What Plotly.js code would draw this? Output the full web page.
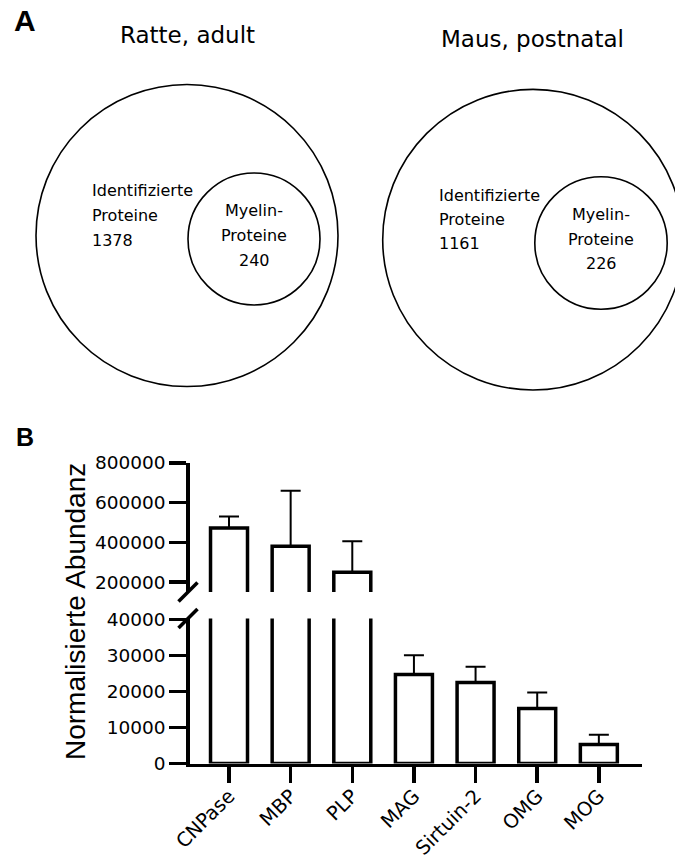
<!DOCTYPE html>
<html>
<head>
<meta charset="utf-8">
<script src="https://cdn.plot.ly/plotly-3.0.1.min.js"></script>
<style>html,body{margin:0;padding:0;background:#fff;}#chart{width:675px;height:855px;}</style>
</head>
<body>
<div id="chart"></div>
<script>
// ---------- data ----------
const proteins = ["CNPase", "MBP", "PLP", "MAG", "Sirtuin-2", "OMG", "MOG"];
const abundance = [472000, 381000, 249000, 24700, 22500, 15300, 5300];
const abundanceErr = [58000, 279000, 157000, 5400, 4350, 4400, 2700];
const lowerTicks = [0, 10000, 20000, 30000, 40000];
const upperTicks = [200000, 400000, 600000, 800000];

const vennTitles = ["Ratte, adult", "Maus, postnatal"];
const identified = [1378, 1161];
const myelin = [240, 226];

// ---------- layout helpers ----------
const W = 675, H = 855;
const px = v => v / W;
const py = v => 1 - v / H;

const FONT = "DejaVu Sans, Liberation Sans, Arial, sans-serif";
const ARIAL = "Liberation Sans, Arial, sans-serif";

// Venn geometry (pixels)
const venn = [
  {outer: {cx: 187, cy: 235.5, r: 151}, inner: {cx: 254, cy: 239, r: 66},
   titleX: 187.5, titleY: 35, leftX: 90, leftY: [190.8, 215.8, 240.3], innerY: [211, 235.3, 260]},
  {outer: {cx: 533, cy: 239.7, r: 150.3}, inner: {cx: 601, cy: 243, r: 66.2},
   titleX: 532.5, titleY: 38.8, leftX: 436.7, leftY: [195.3, 219.5, 243.5], innerY: [214.5, 239, 263.3]}
];

const shapes = [];
const annotations = [];

venn.forEach((v, i) => {
  [v.outer, v.inner].forEach(c => {
    shapes.push({type: "circle", xref: "paper", yref: "paper",
      x0: px(c.cx - c.r), x1: px(c.cx + c.r), y0: py(c.cy + c.r), y1: py(c.cy - c.r),
      line: {color: "#000", width: 1.6}, fillcolor: "rgba(0,0,0,0)"});
  });
  annotations.push({xref: "paper", yref: "paper", x: px(v.titleX), y: py(v.titleY),
    xanchor: "center", yanchor: "middle", showarrow: false, text: vennTitles[i],
    font: {family: FONT, size: 23, color: "#000"}});
  const leftLines = ["Identifizierte", "Proteine", String(identified[i])];
  leftLines.forEach((t, k) => annotations.push({xref: "paper", yref: "paper",
    x: px(v.leftX), y: py(v.leftY[k]), xanchor: "left", yanchor: "middle", showarrow: false,
    text: t, font: {family: FONT, size: 16, color: "#000"}}));
  const innerLines = ["Myelin-", "Proteine", String(myelin[i])];
  innerLines.forEach((t, k) => annotations.push({xref: "paper", yref: "paper",
    x: px(v.inner.cx), y: py(v.innerY[k]), xanchor: "center", yanchor: "middle", showarrow: false,
    text: t, font: {family: FONT, size: 16, color: "#000"}}));
});

// panel letters
annotations.push({xref: "paper", yref: "paper", x: px(24.5), y: py(20), xanchor: "center", yanchor: "middle",
  showarrow: false, text: "<b>A</b>", font: {family: ARIAL, size: 30, color: "#000"}});
annotations.push({xref: "paper", yref: "paper", x: px(25), y: py(437), xanchor: "center", yanchor: "middle",
  showarrow: false, text: "<b>B</b>", font: {family: ARIAL, size: 25, color: "#000"}});

// y-axis title spanning both segments
annotations.push({xref: "paper", yref: "paper", x: px(75), y: py(612), xanchor: "center", yanchor: "middle",
  showarrow: false, textangle: -90, text: "Normalisierte Abundanz",
  font: {family: ARIAL, size: 28, color: "#000"}});

// bar chart geometry (pixels)
const plotL = 189.75, plotR = 642;
const lowBottom = 763.5, lowTop = 763.5 - 40300 * 0.0036;
const upBottom = 592, upTop = 463;

// axis break marks
[upBottom, lowTop].forEach(yc => {
  shapes.push({type: "line", xref: "paper", yref: "paper",
    x0: px(188 - 9.5), y0: py(yc + 9.5), x1: px(188 + 9.5), y1: py(yc - 9.5),
    line: {color: "#000", width: 3.5}});
});

const barStyle = {
  type: "bar", x: proteins, y: abundance, width: 0.6,
  marker: {color: "#fff", line: {color: "#000", width: 3.5}},
  error_y: {type: "data", symmetric: false, array: abundanceErr, arrayminus: abundance.map(() => 0),
    color: "#000", thickness: 2, width: 10},
  hoverinfo: "x+y", showlegend: false
};

const traces = [
  Object.assign({}, barStyle, {xaxis: "x", yaxis: "y"}),
  Object.assign({}, barStyle, {xaxis: "x", yaxis: "y2"})
];

const yCommon = {
  showgrid: false, zeroline: false, showline: true, linecolor: "#000", linewidth: 3.5,
  ticks: "outside", ticklen: 17, tickwidth: 3.5, tickcolor: "#000",
  tickfont: {family: FONT, size: 18.5, color: "#000"}, tickformat: "d", tickmode: "array",
  anchor: "x", fixedrange: true
};

const layout = {
  width: W, height: H, autosize: false,
  margin: {l: 0, r: 0, t: 0, b: 0, pad: 0},
  paper_bgcolor: "#fff", plot_bgcolor: "rgba(0,0,0,0)",
  showlegend: false, bargap: 0.4,
  xaxis: {
    domain: [px(plotL), px(plotR)], range: [-0.637, 6.70], anchor: "y",
    showgrid: false, zeroline: false, showline: true, linecolor: "#000", linewidth: 3.5,
    ticks: "outside", ticklen: 16, tickwidth: 3.5, tickcolor: "#000", tickangle: -45,
    ticklabelstandoff: -6,
    tickfont: {family: FONT, size: 19.5, color: "#000"}, fixedrange: true
  },
  yaxis: Object.assign({}, yCommon, {domain: [py(lowBottom), py(lowTop)], range: [0, 40300], tickvals: lowerTicks}),
  yaxis2: Object.assign({}, yCommon, {domain: [py(upBottom), py(upTop)], range: [150000, 800000], tickvals: upperTicks}),
  shapes: shapes,
  annotations: annotations
};

Plotly.newPlot("chart", traces, layout, {displayModeBar: false, staticPlot: true});
</script>
</body>
</html>
